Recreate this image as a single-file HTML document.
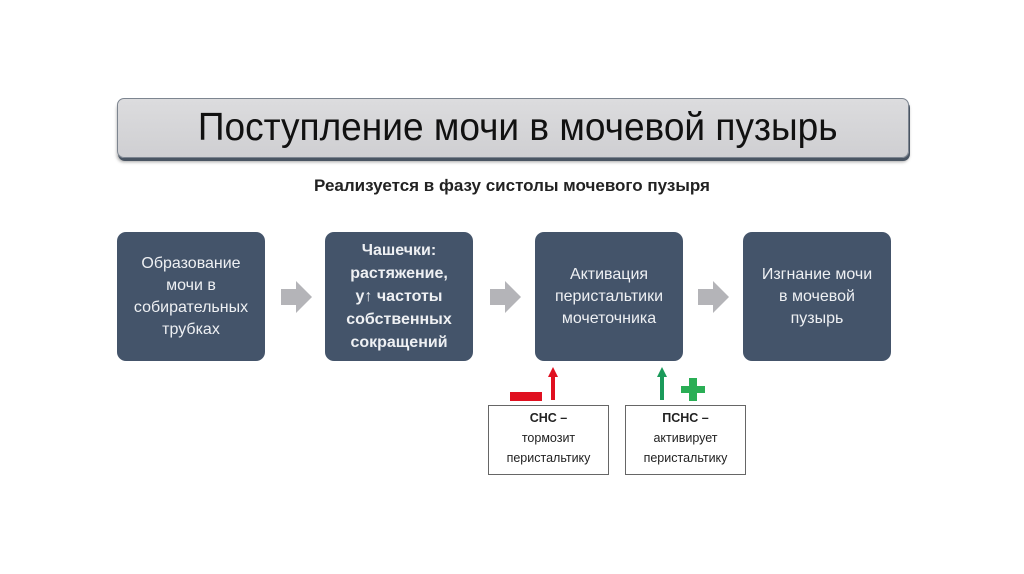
<!DOCTYPE html>
<html><head><meta charset="utf-8"><style>
body{margin:0;width:1024px;height:574px;background:#fff;position:relative;overflow:hidden;font-family:"Liberation Sans","Noto Sans CJK SC",sans-serif}
.t{position:absolute;left:117px;top:98px;width:790px;height:58px;background:linear-gradient(#dcdcde,#cfcfd2);border:1px solid #7d8590;border-radius:7px;box-shadow:1px 3px 0 #4a5563,0 4px 3px rgba(0,0,0,.35);font-size:39px;text-align:center;line-height:58px;color:#111;white-space:nowrap}
.t span{display:inline-block;transform:scaleX(.95);margin-left:10px}
.s{position:absolute;left:0;width:1024px;top:176px;text-align:center;font-weight:bold;font-size:17px;color:#222}
.b{position:absolute;top:232px;width:148px;height:129px;background:#44546a;border-radius:9px;color:#eef0f3;display:flex;align-items:center;justify-content:center;text-align:center;font-size:16px;line-height:22px}
.sm{position:absolute;top:405px;width:121px;height:70px;border:1px solid #666;background:#fff;text-align:center;font-size:12.5px;line-height:20px;color:#222;padding-top:2px;box-sizing:border-box}
</style></head><body>
<div class="t"><span>Поступление мочи в мочевой пузырь</span></div>
<div class="s">Реализуется в фазу систолы мочевого пузыря</div>
<div class="b" style="left:117px">Образование<br>мочи в<br>собирательных<br>трубках</div>
<div class="b" style="left:325px;font-weight:bold;line-height:23px">Чашечки:<br>растяжение,<br>у↑ частоты<br>собственных<br>сокращений</div>
<div class="b" style="left:535px">Активация<br>перистальтики<br>мочеточника</div>
<div class="b" style="left:743px">Изгнание мочи<br>в мочевой<br>пузырь</div>
<svg width="1024" height="574" style="position:absolute;left:0;top:0">
<g fill="#b4b4b8">
<polygon points="281,289 296,289 296,281 312,297 296,313 296,305 281,305"/>
<polygon points="490,289 505,289 505,281 521,297 505,313 505,305 490,305"/>
<polygon points="698,289 713,289 713,281 729,297 713,313 713,305 698,305"/>
</g>
<rect x="510" y="392" width="32" height="9" fill="#e01020"/>
<rect x="551" y="376" width="4" height="24" fill="#e01020"/>
<polygon points="548,377 553,367 558,377" fill="#e01020"/>
<rect x="660" y="376" width="4" height="24" fill="#1a9a5a"/>
<polygon points="657,377 662,367 667,377" fill="#1a9a5a"/>
<rect x="681" y="386" width="24" height="7" fill="#2aae55"/>
<rect x="689" y="378" width="8" height="23" fill="#2aae55"/>
</svg>
<div class="sm" style="left:488px"><b>СНС –</b><br>тормозит<br>перистальтику</div>
<div class="sm" style="left:625px"><b>ПСНС –</b><br>активирует<br>перистальтику</div>
</body></html>
